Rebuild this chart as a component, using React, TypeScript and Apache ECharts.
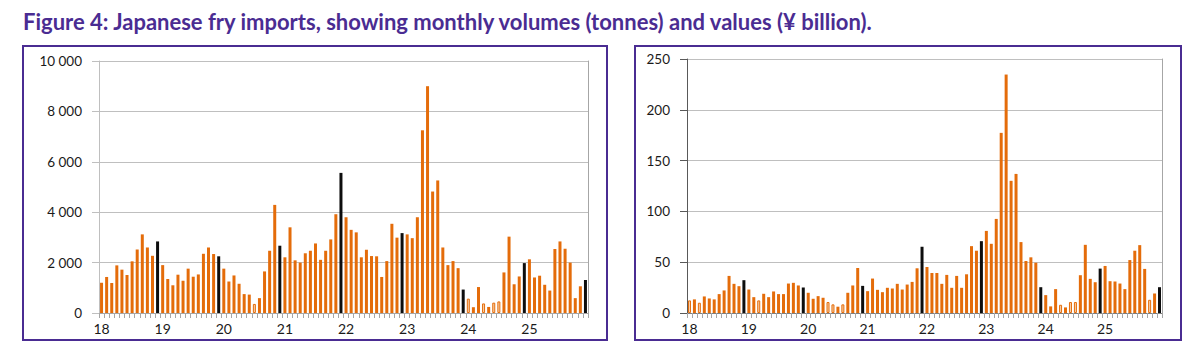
import React, { useEffect, useRef } from "react";
import * as echarts from "echarts";

const years = ["18", "19", "20", "21", "22", "23", "24", "25"];
const months = ["01", "02", "03", "04", "05", "06", "07", "08", "09", "10", "11", "12"];
const categories = years.flatMap((y) => months.map((m) => `${y}-${m}`));

// Monthly import volumes (tonnes), Jan 2018 – Dec 2025
const volumes = [
  1200, 1430, 1190, 1890, 1720, 1510, 2050, 2520, 3120, 2600, 2270, 2840,
  1900, 1350, 1100, 1520, 1280, 1760, 1440, 1530, 2350, 2600, 2340, 2250,
  1760, 1250, 1490, 1160, 750, 730, 360, 590, 1650, 2470, 4290, 2670,
  2210, 3400, 2090, 2000, 2370, 2470, 2760, 2110, 2470, 2920, 3920, 5560,
  3800, 3300, 3200, 2210, 2510, 2260, 2250, 1430, 2060, 3540, 2990, 3170,
  3120, 2970, 3800, 7250, 9000, 4820, 5260, 2600, 1900, 2060, 1780, 930,
  570, 230, 1030, 380, 240, 410, 460, 1610, 3030, 1140, 1450, 1980,
  2130, 1410, 1480, 1120, 890, 2540, 2840, 2550, 2000, 590, 1060, 1310,
];

// Monthly import values (¥ billion), Jan 2018 – Dec 2025
const values = [
  12.4, 13.4, 10.1, 16.3, 14.3, 13.4, 18.6, 22.2, 36.5, 28.7, 26.4, 32.3,
  23.1, 15.6, 12.4, 18.9, 15.6, 21.2, 18.6, 18.6, 29.0, 29.7, 27.1, 25.1,
  19.9, 14.0, 16.6, 15.0, 10.8, 8.5, 6.2, 8.5, 19.9, 27.1, 44.3, 26.7,
  21.5, 33.9, 22.8, 20.5, 24.8, 24.1, 28.7, 23.1, 28.0, 30.6, 44.0, 65.2,
  45.3, 39.4, 39.4, 28.7, 37.5, 24.8, 36.5, 24.8, 38.1, 65.8, 61.3, 70.7,
  80.8, 68.1, 92.6, 177.3, 234.7, 130.1, 136.9, 69.8, 51.2, 54.8, 49.5, 25.4,
  17.6, 6.5, 23.5, 8.1, 5.5, 10.8, 10.8, 37.2, 67.1, 33.6, 30.3, 43.7,
  46.3, 31.3, 31.0, 29.0, 23.5, 52.1, 61.3, 66.8, 43.4, 13.0, 19.2, 25.4,
];

// Bars drawn in the pale (highlighted) style
const volumeLight = [30, 72, 75, 77, 78];
const valueLight = [0, 2, 14, 28, 29, 31, 75, 77, 78, 93];

const volumeTicks = [0, 2000, 4000, 6000, 8000, 10000];
const valueTicks = [0, 50, 100, 150, 200, 250];

const ORANGE = "#e46c0a";
const LIGHT = "#f9cfa9";
const BLACK = "#0d0d0d";
const PURPLE = "#4a2c92";
const TITLE = "Figure 4: Japanese fry imports, showing monthly volumes (tonnes) and values (¥ billion).";
const FONT = "Lato, 'Noto Sans', sans-serif";

const buildData = (vals: number[], light: number[]) =>
  vals.map((v, i) => ({
    value: v,
    itemStyle:
      i % 12 === 11
        ? { color: BLACK }
        : light.includes(i)
        ? { color: LIGHT, borderColor: ORANGE, borderWidth: 1 }
        : { color: ORANGE },
  }));

const fmtThousands = (v: number) => {
  const s = String(Math.round(v));
  return s.replace(/\B(?=(\d{3})+(?!\d))/g, " ");
};

export default function App() {
  const ref = useRef<HTMLDivElement>(null);
  useEffect(() => {
    if (!ref.current) return;
    const chart = echarts.init(ref.current, undefined, { renderer: "svg" });

    const xAxis = (gridIndex: number, lineColor: string) => ({
      type: "category",
      gridIndex,
      data: categories,
      boundaryGap: true,
      axisLine: { show: true, lineStyle: { color: lineColor, width: 1 } },
      axisTick: { show: true, interval: 0, length: 5, lineStyle: { color: "#a6a6a6" } },
      axisLabel: {
        interval: (i: number) => i % 12 === 0,
        formatter: (v: string) => v.slice(0, 2),
        fontSize: 14,
        color: "#1a1a1a",
        margin: 8,
        fontFamily: FONT,
      },
      splitLine: { show: false },
    });

    const yAxis = (gridIndex: number, ticks: number[], lineColor: string, fmt: (v: number) => string) => ({
      type: "value",
      gridIndex,
      min: ticks[0],
      max: ticks[ticks.length - 1],
      interval: ticks[1] - ticks[0],
      axisLine: { show: true, lineStyle: { color: lineColor, width: 1 } },
      axisTick: { show: true, length: 7, lineStyle: { color: lineColor } },
      axisLabel: { formatter: fmt, fontSize: 13.5, color: "#1a1a1a", margin: 17, fontFamily: FONT },
      splitLine: { show: true, lineStyle: { color: "#bfbfbf", width: 1 } },
    });

    const borderAxis = (gridIndex: number, ticks: number[]) => ({
      type: "value",
      gridIndex,
      position: "right",
      min: ticks[0],
      max: ticks[ticks.length - 1],
      interval: ticks[1] - ticks[0],
      axisLine: { show: true, lineStyle: { color: "#a6a6a6", width: 1 } },
      axisTick: { show: false },
      axisLabel: { show: false },
      splitLine: { show: false },
    });

    chart.setOption({
      animation: false,
      backgroundColor: "#ffffff",
      grid: [
        { left: 99, right: 612, top: 61, bottom: 50 },
        { left: 687, right: 38, top: 59, bottom: 50 },
      ],
      xAxis: [xAxis(0, "#a6a6a6"), xAxis(1, "#7f7f7f")],
      yAxis: [
        yAxis(0, volumeTicks, "#bfbfbf", fmtThousands),
        yAxis(1, valueTicks, "#595959", (v: number) => String(v)),
        borderAxis(0, volumeTicks),
        borderAxis(1, valueTicks),
      ],
      series: [
        {
          type: "bar",
          name: "Volume (tonnes)",
          xAxisIndex: 0,
          yAxisIndex: 0,
          barWidth: 3,
          data: buildData(volumes, volumeLight),
        },
        {
          type: "bar",
          name: "Value (¥ billion)",
          xAxisIndex: 1,
          yAxisIndex: 1,
          barWidth: 3,
          data: buildData(values, valueLight),
        },
      ],
      graphic: [
        {
          type: "text",
          left: 23,
          top: 10,
          style: {
            text: TITLE,
            fill: PURPLE,
            font: `bold 22px ${FONT}`,
          },
        },
        {
          type: "rect",
          shape: { x: 23, y: 46, width: 584, height: 294 },
          style: { fill: "none", stroke: PURPLE, lineWidth: 2 },
          silent: true,
        },
        {
          type: "rect",
          shape: { x: 635, y: 46, width: 546, height: 294 },
          style: { fill: "none", stroke: PURPLE, lineWidth: 2 },
          silent: true,
        },
      ],
    });
    return () => chart.dispose();
  }, []);

  return (
    <div
      ref={ref}
      style={{ position: "fixed", left: 0, top: 0, width: 1200, height: 363, background: "#fff" }}
    />
  );
}
